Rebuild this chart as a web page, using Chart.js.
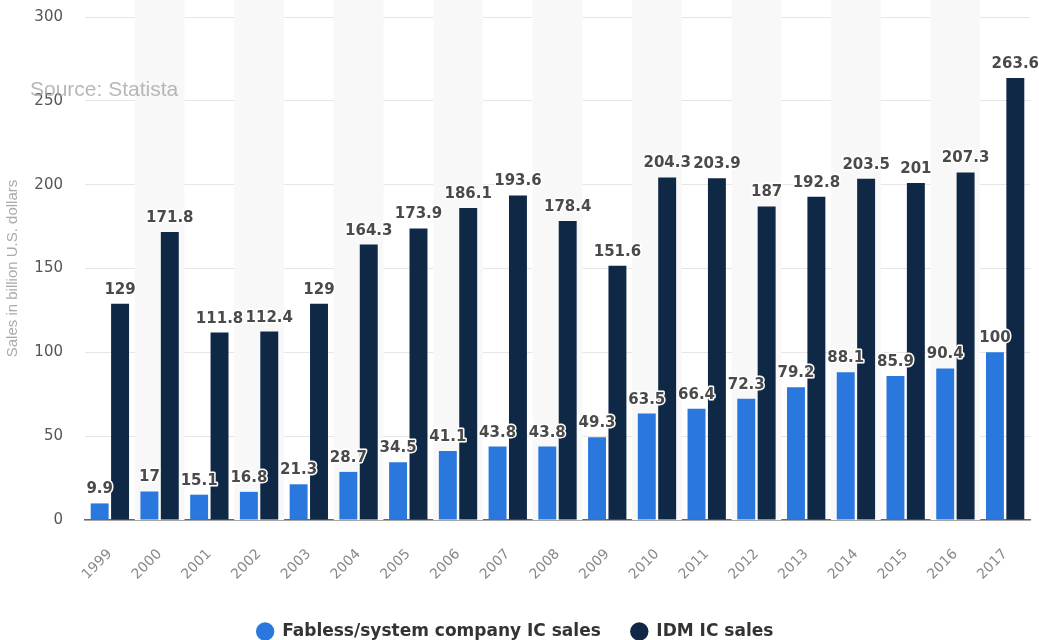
<!DOCTYPE html>
<html>
<head>
<meta charset="utf-8">
<script src="https://cdn.jsdelivr.net/npm/chart.js@4"></script>
<style>
  html, body { margin: 0; padding: 0; background: #fff; overflow: hidden; }
  #wrap { width: 1039px; height: 650px; position: relative; }
</style>
</head>
<body>
<div id="wrap"><canvas id="icChart"></canvas></div>
<script>
const years = ['1999', '2000', '2001', '2002', '2003', '2004', '2005', '2006', '2007', '2008',
               '2009', '2010', '2011', '2012', '2013', '2014', '2015', '2016', '2017'];
const fablessSales = [9.9, 17, 15.1, 16.8, 21.3, 28.7, 34.5, 41.1, 43.8, 43.8,
                      49.3, 63.5, 66.4, 72.3, 79.2, 88.1, 85.9, 90.4, 100];
const idmSales = [129, 171.8, 111.8, 112.4, 129, 164.3, 173.9, 186.1, 193.6, 178.4,
                  151.6, 204.3, 203.9, 187, 192.8, 203.5, 201, 207.3, 263.6];
const yTicks = [0, 50, 100, 150, 200, 250, 300];

const FONT = '"DejaVu Sans", Verdana, sans-serif';

// shaded background on every other year
const stripes = {
    id: 'stripes',
    beforeDatasetsDraw(chart) {
        const { ctx, chartArea, scales } = chart;
        const w = scales.x.width / years.length;
        ctx.save();
        ctx.fillStyle = '#f8f8f8';
        years.forEach((y, i) => {
            if (i % 2 === 1) {
                const cx = scales.x.getPixelForValue(i);
                ctx.fillRect(cx - w / 2, 0, w, chartArea.bottom);
            }
        });
        ctx.restore();
    }
};

// value labels above bars + source note
const valueLabels = {
    id: 'valueLabels',
    afterDatasetsDraw(chart) {
        const ctx = chart.ctx;
        ctx.save();
        ctx.font = 'bold 15px ' + FONT;
        ctx.textAlign = 'center';
        ctx.textBaseline = 'alphabetic';
        ctx.lineJoin = 'round';
        chart.data.datasets.forEach((ds, di) => {
            chart.getDatasetMeta(di).data.forEach((bar, i) => {
                const txt = String(ds.data[i]);
                ctx.lineWidth = 3;
                ctx.strokeStyle = '#ffffff';
                ctx.strokeText(txt, bar.x, bar.y - 10);
                ctx.fillStyle = '#4a4a4a';
                ctx.fillText(txt, bar.x, bar.y - 10);
            });
        });
        ctx.restore();
    },
    afterDraw(chart) {
        const ctx = chart.ctx;
        ctx.save();
        ctx.font = '21px "Liberation Sans", Arial, sans-serif';
        ctx.fillStyle = 'rgba(160,160,160,0.75)';
        ctx.textBaseline = 'middle';
        ctx.fillText('Source: Statista', 30, 90);
        ctx.restore();
    }
};

new Chart(document.getElementById('icChart'), {
    type: 'bar',
    data: {
        labels: years,
        datasets: [
            {
                label: 'Fabless/system company IC sales',
                data: fablessSales,
                backgroundColor: '#2a78de',
                categoryPercentage: 0.82,
                barPercentage: 0.88
            },
            {
                label: 'IDM IC sales',
                data: idmSales,
                backgroundColor: '#0e2846',
                categoryPercentage: 0.82,
                barPercentage: 0.88
            }
        ]
    },
    options: {
        responsive: true,
        maintainAspectRatio: false,
        animation: false,
        layout: { padding: { top: 17, right: 9, left: 0, bottom: 0 } },
        plugins: {
            tooltip: { enabled: false },
            legend: {
                position: 'bottom',
                labels: {
                    usePointStyle: true,
                    pointStyle: 'circle',
                    boxWidth: 17,
                    boxHeight: 13,
                    padding: 30,
                    color: '#333',
                    font: { family: FONT, size: 17, weight: 'bold' }
                }
            }
        },
        scales: {
            x: {
                z: 1,
                grid: { display: false },
                border: { display: true, color: '#666', width: 1.5 },
                ticks: {
                    color: '#888',
                    font: { family: FONT, size: 14 },
                    minRotation: 45,
                    maxRotation: 45,
                    padding: 18
                },
                afterFit(scale) { scale.height = 73; }
            },
            y: {
                min: 0,
                max: 300,
                afterBuildTicks(scale) { scale.ticks = yTicks.map(v => ({ value: v })); },
                grid: { color: '#e6e6e6', drawTicks: false },
                border: { display: false },
                ticks: {
                    color: '#555',
                    padding: 22,
                    font: { family: FONT, size: 15 }
                },
                title: {
                    display: true,
                    text: 'Sales in billion U.S. dollars',
                    color: '#aaa',
                    padding: { top: 4, bottom: 0 },
                    font: { family: '"Liberation Sans", Arial, sans-serif', size: 15 }
                },
                afterFit(scale) {
                    scale.width = 85;
                    scale.paddingTop = 0;
                    scale.paddingBottom = 0;
                }
            }
        }
    },
    plugins: [stripes, valueLabels]
});
</script>
</body>
</html>
